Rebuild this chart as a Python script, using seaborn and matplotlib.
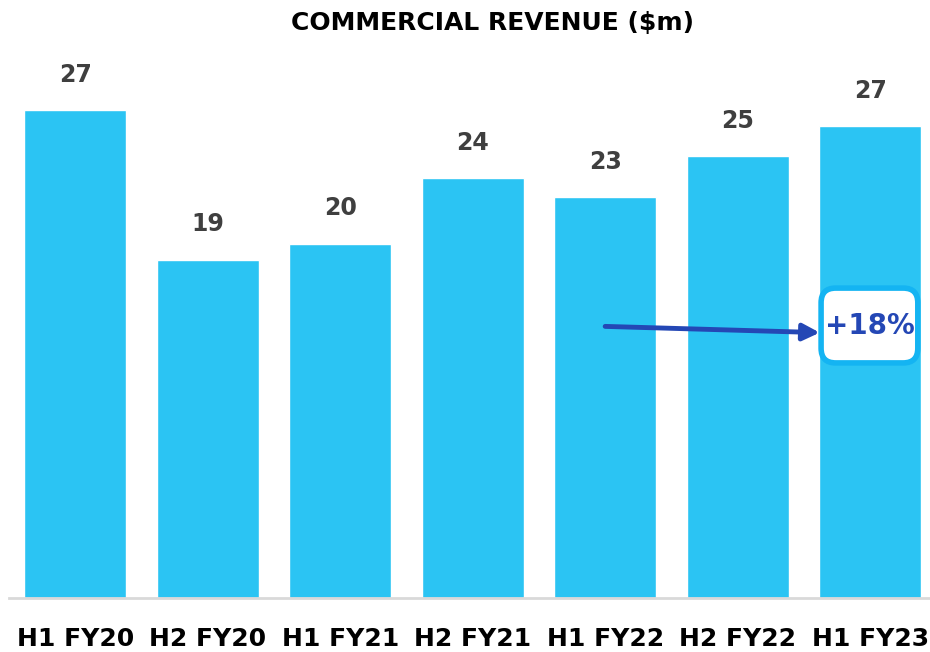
import matplotlib
matplotlib.use("Agg")
import matplotlib.pyplot as plt
from matplotlib.patches import FancyBboxPatch
import seaborn as sns
import pandas as pd

# Data
periods = ["H1 FY20", "H2 FY20", "H1 FY21", "H2 FY21", "H1 FY22", "H2 FY22", "H1 FY23"]
revenue = [27.4, 19.0, 19.9, 23.6, 22.5, 24.8, 26.5]
value_labels = ["27", "19", "20", "24", "23", "25", "27"]
growth_label = "+18%"

df = pd.DataFrame({"period": periods, "revenue": revenue})

sns.set_style("white")
plt.rcParams["font.family"] = ["DejaVu Sans"]

fig = plt.figure(figsize=(9.3, 6.52), dpi=100)
ax = fig.add_axes([0.0097, 0.0828, 0.99, 0.825])

sns.barplot(data=df, x="period", y="revenue", color="#2BC4F3", saturation=1,
            width=0.77, ax=ax)

# value labels above bars
for i, (v, lab) in enumerate(zip(revenue, value_labels)):
    ax.text(i, v + 1.3, lab, ha="center", va="bottom", fontsize=17,
            fontweight="bold", color="#3F3F3F")

# growth arrow from H1 FY22 to H1 FY23
ax.annotate("", xy=(5.62, 14.9), xytext=(4.0, 15.25),
            arrowprops=dict(arrowstyle="-|>,head_length=1.0,head_width=0.5",
                            color="#2447B5", lw=3.5, shrinkA=0, shrinkB=0))
# rounded box around the growth figure
box = FancyBboxPatch((5.63, 13.2), 0.73, 4.2,
                     boxstyle="round,pad=0,rounding_size=0.11",
                     mutation_aspect=1 / 0.134,
                     fc="white", ec="#14B4F2", lw=4, zorder=5)
ax.add_patch(box)
ax.text(6.0, 15.3, growth_label, ha="center", va="center", fontsize=20,
        fontweight="bold", color="#2447B5", zorder=6)

ax.set_xlim(-0.5, 6.45)
ax.set_ylim(0, 30.2)
ax.set_xlabel("")
ax.set_ylabel("")
ax.set_yticks([])
ax.tick_params(axis="x", length=0, pad=21, labelsize=18)
for t in ax.get_xticklabels():
    t.set_fontweight("bold")
    t.set_color("black")
for s in ["top", "right", "left"]:
    ax.spines[s].set_visible(False)
ax.spines["bottom"].set_color("#D9D9D9")
ax.spines["bottom"].set_linewidth(2)

fig.text(0.53, 0.965, "COMMERCIAL REVENUE ($m)", ha="center", va="center",
         fontsize=18, fontweight="bold", color="black")

fig.savefig("out.png", dpi=100)
